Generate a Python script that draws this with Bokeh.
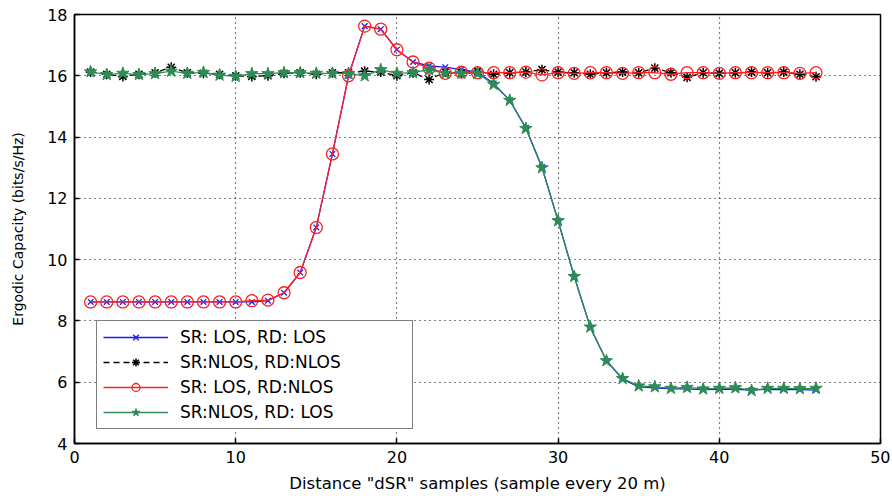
from bokeh.plotting import figure
from bokeh.models import Range1d, FixedTicker, Legend, LegendItem
from bokeh.embed import file_html
from bokeh.resources import INLINE

# ---- data ----
samples = list(range(1, 47))

sr_los_rd_los = [8.62, 8.62, 8.62, 8.62, 8.62, 8.62, 8.62, 8.62, 8.62, 8.62,
                 8.62, 8.66, 8.92, 9.58, 11.05, 13.45, 16.0, 17.62, 17.52, 16.85,
                 16.45, 16.32, 16.28, 16.2, 16.12, 15.75, 15.2, 14.3, 13.02, 11.27,
                 9.45, 7.78, 6.7, 6.1, 5.85, 5.82, 5.78, 5.78, 5.76, 5.77,
                 5.77, 5.74, 5.77, 5.76, 5.76, 5.74]

sr_nlos_rd_nlos = [16.12, 16.05, 15.98, 16.05, 16.1, 16.28, 16.1, 16.08, 16.05, 16.0,
                   15.98, 16.0, 16.08, 16.1, 16.05, 16.1, 16.1, 16.15, 16.12, 16.0,
                   16.1, 15.88, 16.12, 16.1, 16.15, 16.05, 16.1, 16.12, 16.2, 16.12,
                   16.1, 16.05, 16.1, 16.12, 16.1, 16.25, 16.1, 15.95, 16.1, 16.08,
                   16.1, 16.12, 16.1, 16.12, 16.05, 15.97]

sr_los_rd_nlos = [8.62, 8.62, 8.62, 8.62, 8.62, 8.62, 8.62, 8.62, 8.62, 8.62,
                  8.66, 8.68, 8.92, 9.58, 11.05, 13.45, 16.0, 17.62, 17.52, 16.85,
                  16.45, 16.25, 16.08, 16.12, 16.1, 16.1, 16.1, 16.12, 16.03, 16.1,
                  16.08, 16.1, 16.1, 16.08, 16.1, 16.1, 16.05, 16.1, 16.1, 16.08,
                  16.1, 16.1, 16.1, 16.1, 16.08, 16.1]

sr_nlos_rd_los = [16.13, 16.04, 16.08, 16.04, 16.07, 16.15, 16.08, 16.11, 16.02, 15.98,
                  16.07, 16.07, 16.1, 16.1, 16.08, 16.08, 16.07, 16.0, 16.2, 16.08,
                  16.1, 16.2, 16.08, 16.08, 16.08, 15.72, 15.2, 14.28, 13.0, 11.27,
                  9.45, 7.8, 6.7, 6.12, 5.88, 5.85, 5.8, 5.83, 5.78, 5.8,
                  5.82, 5.73, 5.8, 5.8, 5.79, 5.8]

labels = ["SR: LOS, RD: LOS", "SR:NLOS, RD:NLOS", "SR: LOS, RD:NLOS", "SR:NLOS, RD: LOS"]
x_ticks = [0, 10, 20, 30, 40, 50]
y_ticks = [4, 6, 8, 10, 12, 14, 16, 18]

FONT = "DejaVu Sans"

p = figure(frame_width=806, frame_height=429,
           x_range=Range1d(0, 50), y_range=Range1d(4, 18),
           output_backend="svg", toolbar_location=None,
           min_border_left=74, min_border_right=10, min_border_top=14, min_border_bottom=50)
p.outline_line_color = "black"
p.outline_line_width = 1.5

xa = p.xaxis[0]
ya = p.yaxis[0]
xa.ticker = FixedTicker(ticks=x_ticks)
ya.ticker = FixedTicker(ticks=y_ticks)
for ax in (xa, ya):
    ax.axis_line_color = "black"
    ax.axis_line_width = 1.5
    ax.major_tick_in = 5
    ax.major_tick_out = 0
    ax.major_tick_line_color = "black"
    ax.major_tick_line_width = 1.5
    ax.minor_tick_line_color = None
    ax.major_label_text_font = FONT
    ax.major_label_text_color = "black"
    ax.major_label_text_font_size = "16px"
    ax.major_label_standoff = 7
    ax.axis_label_text_font = FONT
    ax.axis_label_text_font_style = "normal"
    ax.axis_label_text_color = "black"
xa.axis_label = 'Distance "dSR" samples (sample every 20 m)'
ya.axis_label = "Ergodic Capacity (bits/s/Hz)"
xa.axis_label_text_font_size = "16.5px"
ya.axis_label_text_font_size = "14px"
xa.axis_label_standoff = 8
ya.axis_label_standoff = 18

for g in (p.xgrid[0], p.ygrid[0]):
    g.grid_line_color = "black"
    g.grid_line_dash = "1 4"
    g.grid_line_width = 1.2
p.xgrid[0].ticker = FixedTicker(ticks=x_ticks[1:-1])
p.ygrid[0].ticker = FixedTicker(ticks=y_ticks[1:-1])

BLUE = "#1a1aff"
RED = "#ff2020"
GREEN = "#2e8b57"

l1 = p.line(samples, sr_los_rd_los, line_color=BLUE, line_width=1.3)
m1 = p.scatter(samples, sr_los_rd_los, marker="x", size=8, line_color=BLUE, line_width=1.3)

l2 = p.line(samples, sr_nlos_rd_nlos, line_color="black", line_width=1.3, line_dash="6 4")
m2 = p.scatter(samples, sr_nlos_rd_nlos, marker="asterisk", size=10, line_color="black", line_width=1.5)

l3 = p.line(samples, sr_los_rd_nlos, line_color=RED, line_width=1.3)
m3 = p.scatter(samples, sr_los_rd_nlos, marker="circle", size=12, line_color=RED,
               fill_alpha=0, line_width=1.3)

l4 = p.line(samples, sr_nlos_rd_los, line_color=GREEN, line_width=1.3)
m4 = p.scatter(samples, sr_nlos_rd_los, marker="star", size=13, line_color=GREEN,
               fill_color=GREEN, line_width=1)

legend = Legend(items=[
    LegendItem(label=labels[0], renderers=[l1, m1]),
    LegendItem(label=labels[1], renderers=[l2, m2]),
    LegendItem(label=labels[2], renderers=[l3, m3]),
    LegendItem(label=labels[3], renderers=[l4, m4]),
])
legend.location = (22, 14)
legend.margin = 0
legend.padding = 6
legend.spacing = 5
legend.glyph_width = 65
legend.glyph_height = 20
legend.label_height = 20
legend.label_width = 226
legend.label_standoff = 12
legend.label_text_font = FONT
legend.label_text_font_size = "17px"
legend.label_text_color = "black"
legend.border_line_color = "black"
legend.border_line_width = 1.5
legend.background_fill_color = "white"
legend.background_fill_alpha = 1
p.add_layout(legend)

open("out.html", "w").write(file_html(p, INLINE))
